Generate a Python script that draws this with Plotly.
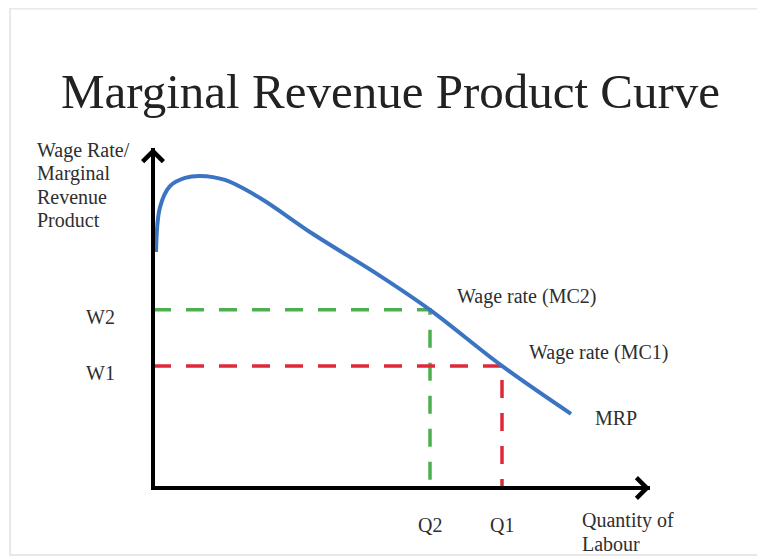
import plotly.graph_objects as go

# ---- data (schematic units) ----
mrp_x = [0.06, 0.14, 0.34, 0.64, 0.94, 1.44, 2.14, 3.20, 4.54, 5.54, 6.98, 8.36]
mrp_y = [6.94, 8.26, 8.88, 9.12, 9.18, 9.06, 8.53, 7.47, 6.24, 5.24, 3.59, 2.18]

q_labels = ["Q2", "Q1"]
q_values = [5.54, 6.98]
w_labels = ["W2", "W1"]
w_values = [5.24, 3.59]
level_colors = ["#4cb050", "#e0283a"]

wage_labels = ["Wage rate (MC2)", "Wage rate (MC1)"]
y_title_lines = ["Wage Rate/", "Marginal", "Revenue", "Product"]
x_title_lines = ["Quantity of", "Labour"]
title_text = "Marginal Revenue Product Curve"

X_TIP = 9.94
Y_TIP = 10.0

FONT = "Liberation Serif"
TXT = "#2e2e2e"

# page body has an 8px margin; figure pixel origin of the axes
OX, OY = 145, 480
SX, SY = 50, 34
W, H = 765, 559

fig = go.Figure()

# dashed guide lines (single L-shaped path each)
for q, w, c in zip(q_values, w_values, level_colors):
    fig.add_trace(go.Scatter(x=[0, q, q], y=[w, w, 0], mode="lines",
                             line=dict(color=c, width=3.5, dash="18px,15px"),
                             hoverinfo="skip", showlegend=False))

# MRP curve
fig.add_trace(go.Scatter(x=mrp_x, y=mrp_y, mode="lines",
                         line=dict(color="#3c74c4", width=4, shape="spline", smoothing=1.0),
                         hoverinfo="skip", showlegend=False))

# axes (L shape)
fig.add_trace(go.Scatter(x=[0, 0, X_TIP], y=[Y_TIP, 0, 0], mode="lines",
                         line=dict(color="black", width=4),
                         hoverinfo="skip", showlegend=False))

ann = []
# arrowheads
ann.append(dict(x=X_TIP, y=0, ax=X_TIP - 0.4, ay=0, xref="x", yref="y", axref="x", ayref="y",
                showarrow=True, arrowhead=4, arrowwidth=4, arrowsize=1, arrowcolor="black",
                standoff=0, text=""))
ann.append(dict(x=0, y=Y_TIP, ax=0, ay=Y_TIP - 0.5, xref="x", yref="y", axref="x", ayref="y",
                showarrow=True, arrowhead=4, arrowwidth=4, arrowsize=1, arrowcolor="black",
                standoff=0, text=""))

lab_font = dict(family=FONT, size=20, color=TXT)

# title
ann.append(dict(x=(390 - 8) / W, y=1 - (92 - 8) / H, xref="paper", yref="paper", text=title_text,
                showarrow=False, xanchor="center", yanchor="middle",
                font=dict(family=FONT, size=49, color="#222222")))

# y axis title lines
for i, t in enumerate(y_title_lines):
    ann.append(dict(x=-2.36, y=9.94 - i * 0.69, xref="x", yref="y", text=t, showarrow=False,
                    xanchor="left", yanchor="middle", font=lab_font))
# x axis title lines
for i, t in enumerate(x_title_lines):
    ann.append(dict(x=8.54, y=-0.97 - i * 0.68, xref="x", yref="y", text=t, showarrow=False,
                    xanchor="left", yanchor="middle", font=lab_font))

# W and Q labels
for t, w in zip(w_labels, w_values):
    ann.append(dict(x=-1.06, y=w, xref="x", yref="y", text=t, showarrow=False,
                    xanchor="center", yanchor="middle", yshift=-7, font=lab_font))
for t, q in zip(q_labels, q_values):
    ann.append(dict(x=q, y=-1.09, xref="x", yref="y", text=t, showarrow=False,
                    xanchor="center", yanchor="middle", font=lab_font))

# wage rate labels
for t, q, w in zip(wage_labels, q_values, w_values):
    ann.append(dict(x=q + 0.5, y=w + 0.4, xref="x", yref="y", text=t, showarrow=False,
                    xanchor="left", yanchor="middle", font=lab_font))

# MRP label
ann.append(dict(x=mrp_x[-1] + 0.44, y=mrp_y[-1] - 0.12, xref="x", yref="y", text="MRP",
                showarrow=False, xanchor="left", yanchor="middle", font=lab_font))

fig.update_layout(
    width=W, height=H,
    margin=dict(l=0, r=0, t=0, b=0),
    paper_bgcolor="white", plot_bgcolor="white",
    xaxis=dict(range=[-OX / SX, (W - OX) / SX], visible=False, fixedrange=True),
    yaxis=dict(range=[-(H - OY) / SY, OY / SY], visible=False, fixedrange=True),
    annotations=ann,
    shapes=[dict(type="rect", xref="paper", yref="paper",
                 x0=2 / W, x1=1.01, y0=1 - 547 / H, y1=0.999,
                 line=dict(color="#e8e8e8", width=2), layer="below")],
)

fig.write_html("out.html")
